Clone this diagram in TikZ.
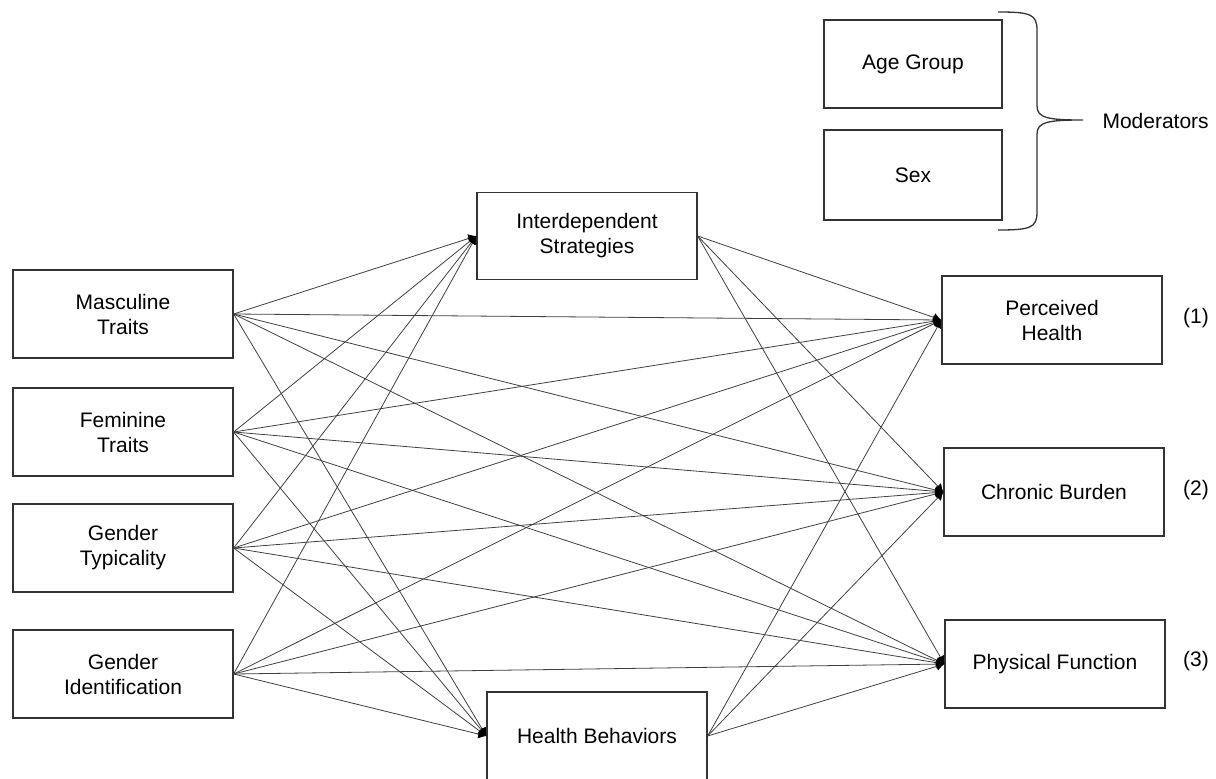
\documentclass[tikz,border=0pt]{standalone}
\usepackage{fontspec}
\setmainfont{Liberation Sans}
\usetikzlibrary{arrows.meta}

\tikzset{
  box/.style={draw=black!80,line width=1.3pt,minimum width=220pt,minimum height=88pt,
    align=center,font=\fontsize{21}{25}\selectfont},
  link/.style={black!75,line width=0.8pt,-{Latex[length=8pt,width=9pt,black]}},
  label/.style={font=\fontsize{21}{25}\selectfont}
}

\begin{document}
\begin{tikzpicture}[x=1pt,y=-1pt]
  \useasboundingbox (0,0) rectangle (1216,779);

  % predictors
  \node[box] (masc) at (123,314) {Masculine\\Traits};
  \node[box] (fem) at (123,432) {Feminine\\Traits};
  \node[box] (typ) at (123,548) {Gender\\Typicality};
  \node[box] (ident) at (123,674) {Gender\\Identification};

  % mediators
  \node[box,minimum height=87pt] (inter) at (587,236) {Interdependent\\Strategies};
  \node[box] (behav) at (597,736) {Health Behaviors};

  % outcomes
  \node[box] (perc) at (1052,320) {Perceived\\Health};
  \node[box] (chron) at (1054,492) {Chronic Burden};
  \node[box] (phys) at (1055,664) {Physical Function};
  \node[label] (n1) at (1196,318) {(1)};
  \node[label] (n2) at (1196,490) {(2)};
  \node[label] (n3) at (1196,661) {(3)};

  % moderators
  \node[box,minimum width=178pt] (age) at (913,64) {Age Group};
  \node[box,minimum width=178pt,minimum height=90pt] (sex) at (913,175) {Sex};
  \draw[black!80,line width=1.3pt] (998,12) .. controls (1030,12) and (1037,14) .. (1037,30)
    -- (1037,106) .. controls (1037,118) and (1048,120) .. (1083,120)
    .. controls (1048,120) and (1037,122) .. (1037,134)
    -- (1037,212) .. controls (1037,228) and (1030,230) .. (998,230);
  \node[label,anchor=west] (mod) at (1099,121) {Moderators};

  \foreach \src in {masc,fem,typ,ident}
    \foreach \dst in {inter,behav,perc,chron,phys}
      \draw[link] (\src.east) -- (\dst.west);
  \foreach \src in {inter,behav}
    \foreach \dst in {perc,chron,phys}
      \draw[link] (\src.east) -- (\dst.west);
\end{tikzpicture}
\end{document}
